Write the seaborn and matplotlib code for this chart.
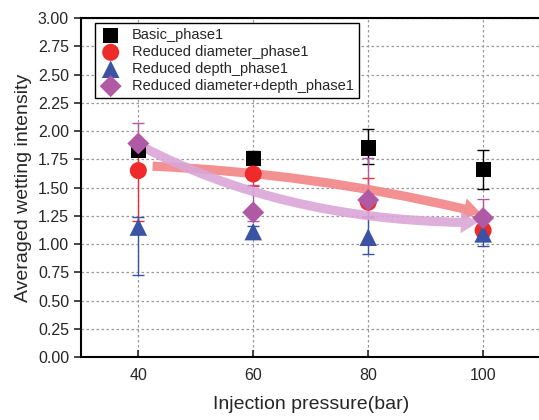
import matplotlib
matplotlib.use("Agg")
import matplotlib.pyplot as plt
import seaborn as sns
import pandas as pd
from matplotlib.patches import FancyArrowPatch

pressure = [40, 60, 80, 100]
series_names = ["Basic_phase1", "Reduced diameter_phase1", "Reduced depth_phase1",
                "Reduced diameter+depth_phase1"]
basic = [1.83, 1.76, 1.85, 1.66]
basic_up = [0.02, 0.06, 0.17, 0.17]
basic_lo = [0.02, 0.05, 0.14, 0.17]
diam = [1.65, 1.62, 1.37, 1.12]
diam_up = [0.16, 0.10, 0.21, 0.05]
diam_lo = [0.45, 0.11, 0.13, 0.05]
depth = [1.15, 1.11, 1.06, 1.09]
depth_up = [0.09, 0.05, 0.18, 0.05]
depth_lo = [0.42, 0.05, 0.15, 0.11]
both = [1.89, 1.28, 1.39, 1.23]
both_up = [0.18, 0.24, 0.37, 0.17]
both_lo = [0.10, 0.08, 0.15, 0.08]

colors = ["#000000", "#EE2A2A", "#3A53A4", "#B05AA5"]
markers = ["s", "o", "^", "D"]
sizes = [120, 150, 160, 125]

# trend arrows (annotation): start/end in data units
red_arrow = [(42, 1.69), (100, 1.27)]
purple_arrow = [(40, 1.88), (99.5, 1.19)]

sns.set_style("ticks")
plt.rcParams['font.family'] = ['Liberation Sans', 'DejaVu Sans']

fig = plt.figure(figsize=(5.39, 4.2), dpi=100)
ax = fig.add_axes([0.150, 0.15, 0.853, 0.807])

vals = [basic, diam, depth, both]
ups = [basic_up, diam_up, depth_up, both_up]
los = [basic_lo, diam_lo, depth_lo, both_lo]

for name, v, u, l, c in zip(series_names, vals, ups, los, colors):
    ax.errorbar(pressure, v, yerr=[l, u], fmt="none", ecolor=c, elinewidth=1,
                capsize=4, capthick=1, zorder=2)

arrow_kw = dict(arrowstyle="simple,head_length=1.0,head_width=1.3,tail_width=0.55",
                mutation_scale=12, lw=0, zorder=3)
a1 = FancyArrowPatch(red_arrow[0], red_arrow[1], connectionstyle="arc3,rad=-0.05",
                     color="#F28486", alpha=0.9, **arrow_kw)
a2 = FancyArrowPatch(purple_arrow[0], purple_arrow[1],
                     connectionstyle="angle3,angleA=-28,angleB=0",
                     color="#DAA6D6", alpha=0.9, **arrow_kw)
ax.add_patch(a1)
ax.add_patch(a2)

for name, v, c, m, s in zip(series_names, vals, colors, markers, sizes):
    d = pd.DataFrame({"pressure": pressure, "value": v})
    sns.scatterplot(data=d, x="pressure", y="value", color=c, marker=m, s=s,
                    edgecolor="none", ax=ax, zorder=4, label=name)

ax.set_xlim(30, 110)
ax.set_ylim(0, 3.0)
ax.set_xticks(pressure)
ax.set_yticks([i * 0.25 for i in range(13)])
ax.set_yticklabels([f"{i*0.25:.2f}" for i in range(13)])
ax.tick_params(axis="x", direction="in", labelsize=11.5, length=5, width=1.2, pad=8)
ax.tick_params(axis="y", direction="out", labelsize=11.5, length=5, width=1.2)
ax.grid(True, linestyle=(0, (2, 2)), color="#999999", linewidth=0.9)
for s in ax.spines.values():
    s.set_linewidth(1.5)
    s.set_color("black")
ax.set_xlabel("Injection pressure(bar)", fontsize=14, labelpad=9)
ax.set_ylabel("Averaged wetting intensity", fontsize=14)

leg = ax.legend(loc="upper left", bbox_to_anchor=(0.03, 0.985), fontsize=10.5,
                frameon=True, fancybox=False, edgecolor="black", framealpha=1,
                handletextpad=0.7, borderpad=0.35, labelspacing=0.2,
                borderaxespad=0, handlelength=1.5)
leg.get_frame().set_linewidth(1.0)

fig.savefig("out.png", dpi=100)
